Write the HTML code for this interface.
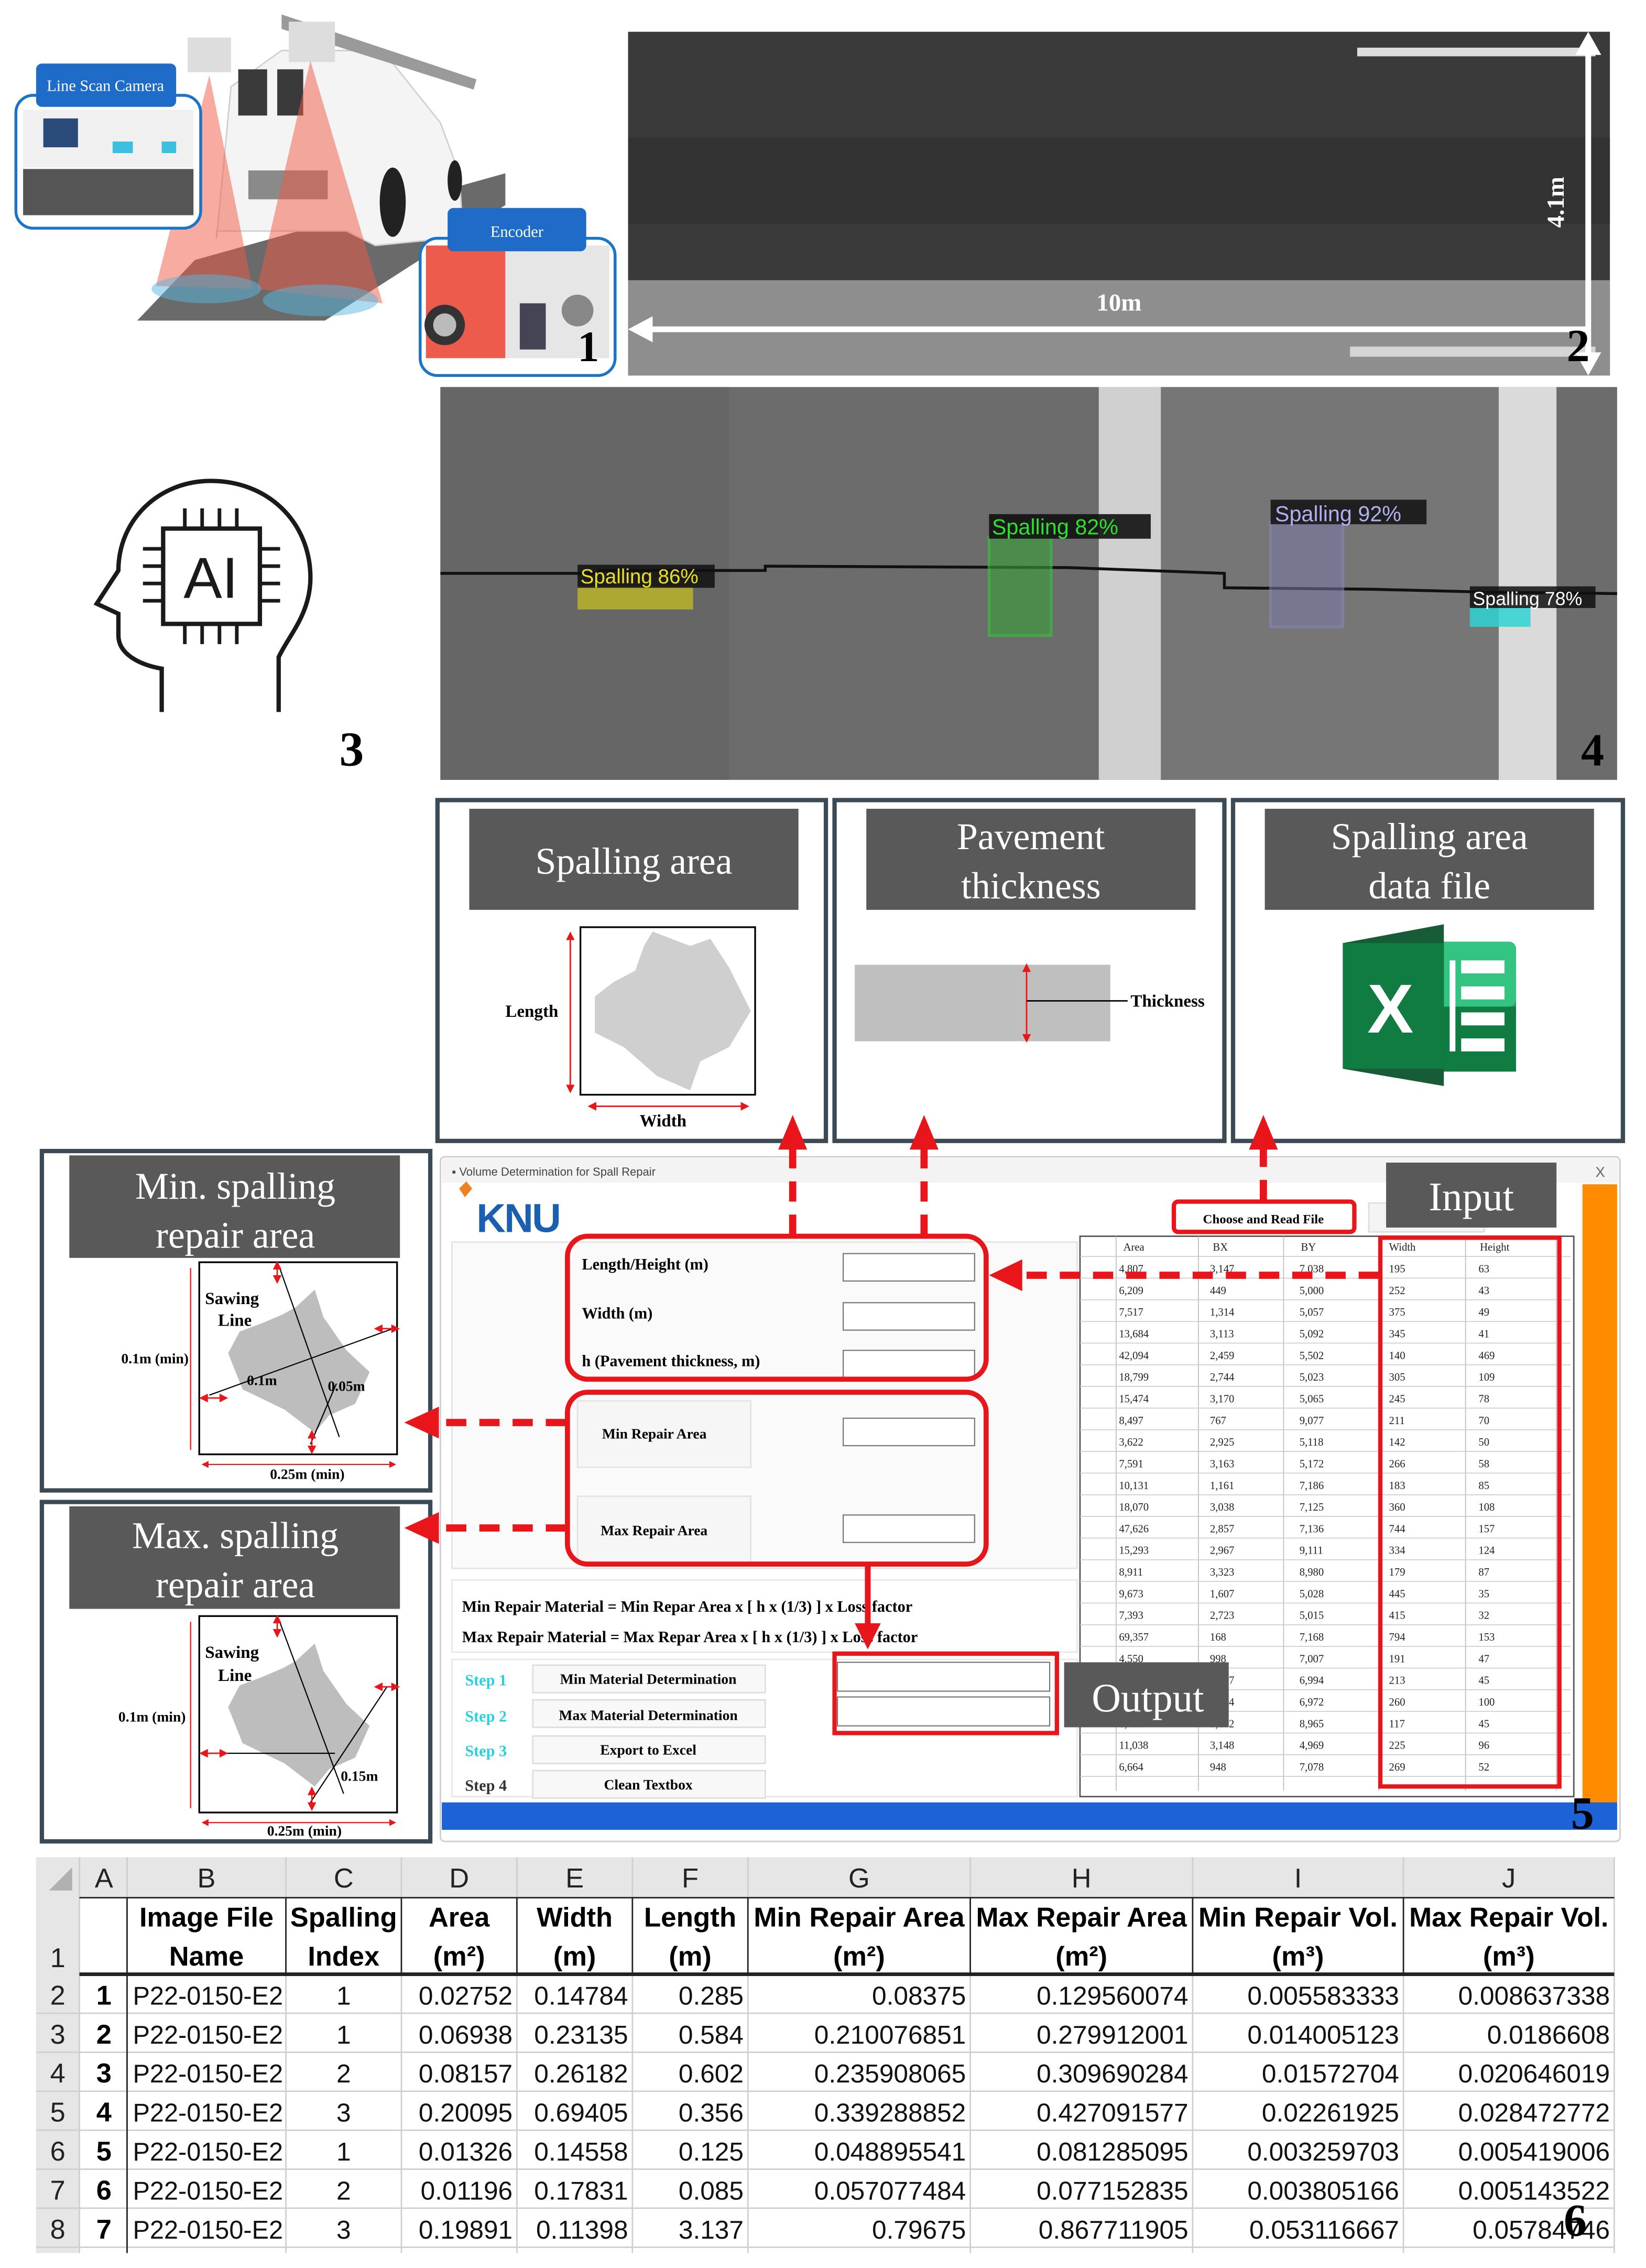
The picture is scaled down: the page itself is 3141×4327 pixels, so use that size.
<!DOCTYPE html>
<html><head><meta charset="utf-8"><style>html,body{margin:0;padding:0;background:#fff}svg{display:block}</style></head>
<body>
<svg xmlns="http://www.w3.org/2000/svg" width="3141" height="4327" viewBox="0 0 1140 1570.4" preserveAspectRatio="none" font-family="Liberation Serif, serif">
<defs>
<marker id="sa" markerWidth="6" markerHeight="6" refX="3" refY="3" orient="auto-start-reverse" markerUnits="strokeWidth"><path d="M0,0 L6,3 L0,6 z" fill="#e8161b"/></marker>
</defs>

<!-- Panel 1 -->
<polygon points="95,222 135,180 350,120 350,142 225,222" fill="#6a6a6a"/>
<path d="M150,165 L160,60 L195,35 L265,35 L305,85 L318,120 L320,150 L310,165 L260,170 L240,160 L150,160 z" fill="#f4f4f4" stroke="#d0d0d0"/>
<rect x="165" y="48" width="20" height="32" fill="#3a3a3a"/><rect x="192" y="48" width="18" height="32" fill="#3a3a3a"/>
<rect x="172" y="118" width="55" height="20" fill="#8a8a8a"/>
<ellipse cx="272" cy="140" rx="9" ry="24" fill="#222"/><ellipse cx="315" cy="125" rx="5" ry="14" fill="#222"/>
<polygon points="195,10 330,55 328,62 195,20" fill="#9a9a9a"/>
<rect x="130" y="26" width="30" height="24" fill="#ddd"/><rect x="200" y="15" width="32" height="28" fill="#ddd"/>
<polygon points="145,52 108,198 175,200" fill="#f25a44" opacity="0.5"/>
<polygon points="215,42 178,200 265,210" fill="#f25a44" opacity="0.5"/>
<ellipse cx="143" cy="200" rx="38" ry="10" fill="#55b8e0" opacity="0.5"/>
<ellipse cx="222" cy="208" rx="40" ry="11" fill="#55b8e0" opacity="0.5"/>
<rect x="11" y="66" width="128" height="92" rx="12" fill="#fff" stroke="#1b74c8" stroke-width="2"/>
<rect x="16" y="76" width="118" height="40" fill="#f0f0f0"/><rect x="30" y="82" width="24" height="20" fill="#2a4a7a"/>
<rect x="78" y="98" width="14" height="8" fill="#3bc0e0"/><rect x="112" y="98" width="10" height="8" fill="#3bc0e0"/>
<rect x="16" y="117" width="118" height="32" fill="#555"/>
<rect x="25" y="44" width="97" height="30" rx="4" fill="#1e6cc8"/>
<text x="73" y="63" font-size="11" fill="#fff" text-anchor="middle">Line Scan Camera</text>
<rect x="291" y="165" width="135" height="95" rx="12" fill="#fff" stroke="#1b74c8" stroke-width="2"/>
<rect x="295" y="170" width="55" height="78" fill="#ec5b4c"/><circle cx="308" cy="225" r="14" fill="#333"/><circle cx="308" cy="225" r="8" fill="#bbb"/>
<rect x="350" y="170" width="72" height="78" fill="#e6e6e6"/><rect x="360" y="210" width="18" height="32" fill="#445"/>
<circle cx="400" cy="215" r="11" fill="#888"/>
<rect x="310" y="144" width="96" height="30" rx="4" fill="#1e6cc8"/>
<text x="358" y="164" font-size="11" fill="#fff" text-anchor="middle">Encoder</text>
<text x="400" y="250" font-size="30" font-weight="bold">1</text>

<!-- Panel 2 -->
<rect x="435" y="22" width="680" height="238" fill="#3a3a3a"/>
<rect x="435" y="95" width="680" height="60" fill="#333"/>
<rect x="435" y="194" width="680" height="66" fill="#8e8e8e"/>
<rect x="940" y="33" width="165" height="6" fill="#ddd"/>
<rect x="935" y="240" width="170" height="7" fill="#d5d5d5"/>
<line x1="446" y1="228" x2="1100" y2="228" stroke="#fff" stroke-width="4"/>
<polygon points="435,228 452,219 452,237" fill="#fff"/>
<line x1="1100" y1="34" x2="1100" y2="250" stroke="#fff" stroke-width="4"/>
<polygon points="1100,22 1091,38 1109,38" fill="#fff"/><polygon points="1100,260 1091,244 1109,244" fill="#fff"/>
<text x="775" y="215" font-size="17" font-weight="bold" fill="#fff" text-anchor="middle">10m</text>
<text x="1083" y="140" font-size="17" font-weight="bold" fill="#fff" text-anchor="middle" transform="rotate(-90 1083 140)">4.1m</text>
<text x="1085" y="250" font-size="32" font-weight="bold" fill="#000">2</text>

<!-- Panel 3 AI head -->
<path d="M112,493 V463 C95,460 82,452 82,440 V425 L67,418 L82,395 C82,360 110,333 146,333 C186,333 215,362 215,400 C215,425 200,440 193,455 V493" fill="none" stroke="#1a1a1a" stroke-width="3"/>
<rect x="113" y="366" width="67" height="66" fill="none" stroke="#1a1a1a" stroke-width="3"/>
<g stroke="#1a1a1a" stroke-width="2.5">
<line x1="128" y1="352" x2="128" y2="366"/><line x1="140" y1="352" x2="140" y2="366"/><line x1="152" y1="352" x2="152" y2="366"/><line x1="164" y1="352" x2="164" y2="366"/>
<line x1="128" y1="432" x2="128" y2="446"/><line x1="140" y1="432" x2="140" y2="446"/><line x1="152" y1="432" x2="152" y2="446"/><line x1="164" y1="432" x2="164" y2="446"/>
<line x1="99" y1="380" x2="113" y2="380"/><line x1="99" y1="392" x2="113" y2="392"/><line x1="99" y1="404" x2="113" y2="404"/><line x1="99" y1="416" x2="113" y2="416"/>
<line x1="180" y1="380" x2="194" y2="380"/><line x1="180" y1="392" x2="194" y2="392"/><line x1="180" y1="404" x2="194" y2="404"/><line x1="180" y1="416" x2="194" y2="416"/>
</g>
<text x="146" y="414" font-family="Liberation Sans, sans-serif" font-size="40" text-anchor="middle" fill="#1a1a1a">AI</text>
<text x="235" y="530" font-size="34" font-weight="bold">3</text>

<!-- Panel 4 -->
<rect x="305" y="268" width="815" height="272" fill="#6c6c6c"/>
<rect x="305" y="268" width="200" height="272" fill="#666"/>
<rect x="804" y="268" width="234" height="272" fill="#767676"/>
<rect x="761" y="268" width="43" height="272" fill="#d0d0d0"/>
<rect x="1038" y="268" width="40" height="272" fill="#dadada"/>
<path d="M305,397 L415,397 L415,395 L530,395 L530,392 L740,393 L848,397 L848,407 L950,408 L1030,410 L1120,411" stroke="#111" stroke-width="2" fill="none"/>
<rect x="400" y="406" width="80" height="16" fill="#c6bf22" opacity="0.75"/>
<rect x="400" y="391" width="95" height="16" fill="#111" opacity="0.85"/>
<text x="402" y="404" font-family="Liberation Sans, sans-serif" font-size="14" fill="#e8e020">Spalling 86%</text>
<rect x="685" y="372" width="43" height="68" fill="#3aa03a" opacity="0.6" stroke="#3c3" stroke-width="2"/>
<rect x="685" y="356" width="112" height="17" fill="#111" opacity="0.9"/>
<text x="687" y="370" font-family="Liberation Sans, sans-serif" font-size="15" fill="#30e030">Spalling 82%</text>
<rect x="880" y="362" width="50" height="72" fill="#7878a8" opacity="0.55" stroke="#8888c0" stroke-width="2"/>
<rect x="880" y="346" width="108" height="17" fill="#111" opacity="0.85"/>
<text x="883" y="361" font-family="Liberation Sans, sans-serif" font-size="15" fill="#b0b0f0">Spalling 92%</text>
<rect x="1018" y="420" width="42" height="14" fill="#2fd3d3" opacity="0.85"/>
<rect x="1018" y="406" width="87" height="15" fill="#111" opacity="0.85"/>
<text x="1020" y="419" font-family="Liberation Sans, sans-serif" font-size="13" fill="#fff">Spalling 78%</text>
<text x="1095" y="530" font-size="32" font-weight="bold">4</text>

<!-- three boxes -->
<g fill="#fff" stroke="#3b4a55" stroke-width="3">
<rect x="303" y="554" width="269" height="236"/><rect x="578" y="554" width="270" height="236"/><rect x="854" y="554" width="270" height="236"/>
</g>
<g fill="#595959"><rect x="325" y="560" width="228" height="70"/><rect x="600" y="560" width="228" height="70"/><rect x="876" y="560" width="228" height="70"/></g>
<g fill="#fff" font-size="26" text-anchor="middle">
<text x="439" y="605">Spalling area</text>
<text x="714" y="588">Pavement</text><text x="714" y="622">thickness</text>
<text x="990" y="588">Spalling area</text><text x="990" y="622">data file</text>
</g>
<rect x="402" y="642" width="121" height="116" fill="#fff" stroke="#000" stroke-width="1.2"/>
<polygon points="452,645 478,655 492,650 505,670 520,700 505,725 485,735 478,755 455,745 432,725 412,715 412,690 425,680 440,672 446,655" fill="#cfcfcf"/>
<line x1="395" y1="648" x2="395" y2="754" stroke="#e8161b" stroke-width="1" marker-start="url(#sa)" marker-end="url(#sa)"/>
<line x1="410" y1="766" x2="516" y2="766" stroke="#e8161b" stroke-width="1" marker-start="url(#sa)" marker-end="url(#sa)"/>
<text x="350" y="704" font-size="12" font-weight="bold">Length</text>
<text x="443" y="780" font-size="12" font-weight="bold">Width</text>
<rect x="592" y="668" width="177" height="53" fill="#bfbfbf"/>
<line x1="711" y1="670" x2="711" y2="719" stroke="#e8161b" stroke-width="1" marker-start="url(#sa)" marker-end="url(#sa)"/>
<line x1="711" y1="693" x2="781" y2="693" stroke="#000" stroke-width="1"/>
<text x="783" y="697" font-size="12" font-weight="bold">Thickness</text>
<!-- excel -->
<rect x="968" y="652" width="82" height="90" rx="5" fill="#21a366"/>
<rect x="968" y="652" width="82" height="45" rx="5" fill="#33c481"/>
<rect x="968" y="697" width="82" height="45" fill="#107c41"/>
<polygon points="930,653 1000,640 1000,752 930,740" fill="#185c37"/>
<rect x="930" y="653" width="70" height="87" fill="#107c41"/>
<text x="963" y="715" font-family="Liberation Sans, sans-serif" font-size="48" font-weight="bold" fill="#fff" text-anchor="middle">X</text>
<g fill="#fff"><rect x="1012" y="665" width="30" height="9"/><rect x="1012" y="683" width="30" height="9"/><rect x="1012" y="701" width="30" height="9"/><rect x="1012" y="719" width="30" height="9"/><rect x="1004" y="665" width="4" height="63"/></g>

<!-- left boxes -->
<g fill="#fff" stroke="#3b4a55" stroke-width="3"><rect x="29" y="797" width="269" height="235"/><rect x="29" y="1040" width="269" height="235"/></g>
<g fill="#595959"><rect x="48" y="800" width="229" height="71"/><rect x="48" y="1043" width="229" height="71"/></g>
<g fill="#fff" font-size="26" text-anchor="middle">
<text x="163" y="830">Min. spalling</text><text x="163" y="864">repair area</text>
<text x="163" y="1072">Max. spalling</text><text x="163" y="1106">repair area</text>
</g>
<g>
<rect x="138" y="874" width="137" height="133" fill="#fff" stroke="#000" stroke-width="1.2"/>
<polygon points="205,905 218,893 224,912 240,935 256,950 246,972 228,980 218,992 197,976 168,962 158,937 166,922 182,916 196,910" fill="#bdbdbd"/>
<line x1="193" y1="876" x2="235" y2="995" stroke="#000" stroke-width="0.8"/>
<line x1="145" y1="966" x2="272" y2="920" stroke="#000" stroke-width="0.8"/>
<line x1="215" y1="1000" x2="233" y2="958" stroke="#000" stroke-width="0.8"/>
<line x1="132" y1="878" x2="132" y2="1004" stroke="#e8161b" stroke-width="0.8"/>
<line x1="142" y1="1014" x2="272" y2="1014" stroke="#e8161b" stroke-width="0.8" marker-start="url(#sa)" marker-end="url(#sa)"/>
<line x1="262" y1="920" x2="274" y2="920" stroke="#e8161b" stroke-width="1" marker-start="url(#sa)" marker-end="url(#sa)"/>
<line x1="141" y1="968" x2="155" y2="968" stroke="#e8161b" stroke-width="1" marker-start="url(#sa)" marker-end="url(#sa)"/>
<line x1="192" y1="876" x2="192" y2="886" stroke="#e8161b" stroke-width="1" marker-start="url(#sa)" marker-end="url(#sa)"/>
<line x1="216" y1="993" x2="216" y2="1004" stroke="#e8161b" stroke-width="1" marker-start="url(#sa)" marker-end="url(#sa)"/>
<text x="142" y="903" font-size="12" font-weight="bold">Sawing</text>
<text x="151" y="918" font-size="12" font-weight="bold">Line</text>
<text x="84" y="944" font-size="10" font-weight="bold">0.1m (min)</text>
<text x="171" y="959" font-size="10" font-weight="bold">0.1m</text>
<text x="227" y="963" font-size="10" font-weight="bold">0.05m</text>
<text x="187" y="1024" font-size="10" font-weight="bold">0.25m (min)</text>
</g>
<g>
<rect x="138" y="1119" width="137" height="136" fill="#fff" stroke="#000" stroke-width="1.2"/>
<polygon points="205,1150 218,1138 224,1157 240,1180 256,1195 246,1217 228,1225 218,1237 197,1221 168,1207 158,1182 166,1167 182,1161 196,1155" fill="#bdbdbd"/>
<line x1="193" y1="1121" x2="238" y2="1242" stroke="#000" stroke-width="0.8"/>
<line x1="145" y1="1214" x2="232" y2="1214" stroke="#000" stroke-width="0.8"/>
<line x1="215" y1="1248" x2="268" y2="1168" stroke="#000" stroke-width="0.8"/>
<line x1="132" y1="1123" x2="132" y2="1252" stroke="#e8161b" stroke-width="0.8"/>
<line x1="142" y1="1262" x2="272" y2="1262" stroke="#e8161b" stroke-width="0.8" marker-start="url(#sa)" marker-end="url(#sa)"/>
<line x1="262" y1="1168" x2="274" y2="1168" stroke="#e8161b" stroke-width="1" marker-start="url(#sa)" marker-end="url(#sa)"/>
<line x1="141" y1="1214" x2="155" y2="1214" stroke="#e8161b" stroke-width="1" marker-start="url(#sa)" marker-end="url(#sa)"/>
<line x1="192" y1="1121" x2="192" y2="1131" stroke="#e8161b" stroke-width="1" marker-start="url(#sa)" marker-end="url(#sa)"/>
<line x1="216" y1="1240" x2="216" y2="1251" stroke="#e8161b" stroke-width="1" marker-start="url(#sa)" marker-end="url(#sa)"/>
<text x="142" y="1148" font-size="12" font-weight="bold">Sawing</text>
<text x="151" y="1164" font-size="12" font-weight="bold">Line</text>
<text x="82" y="1192" font-size="10" font-weight="bold">0.1m (min)</text>
<text x="236" y="1233" font-size="10" font-weight="bold">0.15m</text>
<text x="185" y="1271" font-size="10" font-weight="bold">0.25m (min)</text>
</g>

<!-- App window -->
<rect x="305" y="801" width="817" height="474" rx="3" fill="#fff" stroke="#ccc" stroke-width="1"/>
<rect x="306" y="802" width="815" height="17" fill="#f3f3f3"/>
<text x="313" y="814" font-family="Liberation Sans, sans-serif" font-size="8" fill="#444">▪ Volume Determination for Spall Repair</text>
<text x="1105" y="815" font-family="Liberation Sans, sans-serif" font-size="10" fill="#666">X</text>
<rect x="1096" y="820" width="24" height="445" fill="#ff8c00"/>
<polygon points="318,823 323,818 327,823 322,829" fill="#f08020"/>
<text x="330" y="853" font-family="Liberation Sans, sans-serif" font-size="28" font-weight="bold" fill="#1b5fb0" letter-spacing="-1">KNU</text>
<rect x="313" y="860" width="433" height="226" fill="#fafafa" stroke="#e4e4e4"/>
<rect x="313" y="1094" width="433" height="50" fill="#fff" stroke="#e8e8e8"/>
<rect x="313" y="1149" width="433" height="95" fill="#fff" stroke="#e8e8e8"/>
<rect x="400" y="970" width="120" height="46" fill="#f6f6f6" stroke="#e4e4e4"/>
<rect x="400" y="1036" width="120" height="46" fill="#f6f6f6" stroke="#e4e4e4"/>
<rect x="948" y="833" width="80" height="20" fill="#f4f4f4" stroke="#ddd"/>
<text x="979" y="847" font-size="9" font-weight="bold">Cancel</text>
<rect x="960" y="805" width="118" height="45" fill="#595959"/>
<text x="1019" y="838" font-size="28" fill="#fff" text-anchor="middle">Input</text>
<rect x="813" y="832" width="125" height="21" rx="3" fill="#fff" stroke="#e8161b" stroke-width="3"/>
<text x="875" y="847" font-size="9" font-weight="bold" text-anchor="middle">Choose and Read File</text>
<g font-size="11" font-weight="bold">
<text x="403" y="879">Length/Height (m)</text>
<text x="403" y="913">Width (m)</text>
<text x="403" y="946">h (Pavement thickness, m)</text>
<text x="417" y="996" font-size="10">Min Repair Area</text>
<text x="416" y="1063" font-size="10">Max Repair Area</text>
</g>
<g fill="#fff" stroke="#777" stroke-width="0.8">
<rect x="584" y="868" width="91" height="19"/><rect x="584" y="902" width="91" height="19"/><rect x="584" y="935" width="91" height="19"/>
<rect x="584" y="982" width="91" height="19"/><rect x="584" y="1049" width="91" height="19"/>
<rect x="580" y="1151" width="147" height="20"/><rect x="580" y="1175" width="147" height="20"/>
</g>
<rect x="393" y="856" width="290" height="99" rx="14" fill="none" stroke="#e8161b" stroke-width="3.5"/>
<rect x="393" y="964" width="290" height="119" rx="14" fill="none" stroke="#e8161b" stroke-width="3.5"/>
<text x="320" y="1116" font-size="11" font-weight="bold">Min Repair Material = Min Repar Area x [ h x (1/3) ] x Loss factor</text>
<text x="320" y="1137" font-size="11" font-weight="bold">Max Repair Material = Max Repar Area x [ h x (1/3) ] x Loss factor</text>
<g font-size="11" font-weight="bold">
<text x="322" y="1167" fill="#2bd0e0">Step 1</text><text x="322" y="1192" fill="#2bd0e0">Step 2</text><text x="322" y="1216" fill="#2bd0e0">Step 3</text><text x="322" y="1240" fill="#333">Step 4</text>
</g>
<g fill="#f8f8f8" stroke="#ddd"><rect x="369" y="1153" width="161" height="19"/><rect x="369" y="1177" width="161" height="19"/><rect x="369" y="1202" width="161" height="19"/><rect x="369" y="1226" width="161" height="19"/></g>
<g font-size="10" font-weight="bold" text-anchor="middle">
<text x="449" y="1166">Min Material Determination</text><text x="449" y="1191">Max Material Determination</text><text x="449" y="1215">Export to Excel</text><text x="449" y="1239">Clean Textbox</text>
</g>
<rect x="578" y="1145" width="154" height="55" fill="none" stroke="#e8161b" stroke-width="3"/>
<!-- table -->
<rect x="748" y="856" width="342" height="388" fill="#fff" stroke="#555" stroke-width="1"/>
<g stroke="#bbb" stroke-width="0.6">
<line x1="773" y1="856" x2="773" y2="1240"/><line x1="830" y1="856" x2="830" y2="1240"/><line x1="889" y1="856" x2="889" y2="1240"/><line x1="955" y1="856" x2="955" y2="1240"/><line x1="1015" y1="856" x2="1015" y2="1240"/><line x1="1078" y1="856" x2="1078" y2="1240"/>
</g>
<g stroke="#ccc" stroke-width="0.6">
<line x1="748" y1="870" x2="1088" y2="870"/><line x1="748" y1="885" x2="1088" y2="885"/><line x1="748" y1="900" x2="1088" y2="900"/><line x1="748" y1="915" x2="1088" y2="915"/><line x1="748" y1="930" x2="1088" y2="930"/><line x1="748" y1="945" x2="1088" y2="945"/><line x1="748" y1="960" x2="1088" y2="960"/><line x1="748" y1="975" x2="1088" y2="975"/><line x1="748" y1="990" x2="1088" y2="990"/><line x1="748" y1="1005" x2="1088" y2="1005"/><line x1="748" y1="1020" x2="1088" y2="1020"/><line x1="748" y1="1035" x2="1088" y2="1035"/><line x1="748" y1="1050" x2="1088" y2="1050"/><line x1="748" y1="1065" x2="1088" y2="1065"/><line x1="748" y1="1080" x2="1088" y2="1080"/><line x1="748" y1="1095" x2="1088" y2="1095"/><line x1="748" y1="1110" x2="1088" y2="1110"/><line x1="748" y1="1125" x2="1088" y2="1125"/><line x1="748" y1="1140" x2="1088" y2="1140"/><line x1="748" y1="1155" x2="1088" y2="1155"/><line x1="748" y1="1170" x2="1088" y2="1170"/><line x1="748" y1="1185" x2="1088" y2="1185"/><line x1="748" y1="1200" x2="1088" y2="1200"/><line x1="748" y1="1215" x2="1088" y2="1215"/><line x1="748" y1="1230" x2="1088" y2="1230"/>
</g>
<g font-size="7.5" fill="#222">
<text x="778" y="866">Area</text><text x="840" y="866">BX</text><text x="901" y="866">BY</text><text x="962" y="866">Width</text><text x="1025" y="866">Height</text>
<text x="775" y="881">4,807</text><text x="838" y="881">3,147</text><text x="900" y="881">7,038</text><text x="962" y="881">195</text><text x="1024" y="881">63</text>
<text x="775" y="896">6,209</text><text x="838" y="896">449</text><text x="900" y="896">5,000</text><text x="962" y="896">252</text><text x="1024" y="896">43</text>
<text x="775" y="911">7,517</text><text x="838" y="911">1,314</text><text x="900" y="911">5,057</text><text x="962" y="911">375</text><text x="1024" y="911">49</text>
<text x="775" y="926">13,684</text><text x="838" y="926">3,113</text><text x="900" y="926">5,092</text><text x="962" y="926">345</text><text x="1024" y="926">41</text>
<text x="775" y="941">42,094</text><text x="838" y="941">2,459</text><text x="900" y="941">5,502</text><text x="962" y="941">140</text><text x="1024" y="941">469</text>
<text x="775" y="956">18,799</text><text x="838" y="956">2,744</text><text x="900" y="956">5,023</text><text x="962" y="956">305</text><text x="1024" y="956">109</text>
<text x="775" y="971">15,474</text><text x="838" y="971">3,170</text><text x="900" y="971">5,065</text><text x="962" y="971">245</text><text x="1024" y="971">78</text>
<text x="775" y="986">8,497</text><text x="838" y="986">767</text><text x="900" y="986">9,077</text><text x="962" y="986">211</text><text x="1024" y="986">70</text>
<text x="775" y="1001">3,622</text><text x="838" y="1001">2,925</text><text x="900" y="1001">5,118</text><text x="962" y="1001">142</text><text x="1024" y="1001">50</text>
<text x="775" y="1016">7,591</text><text x="838" y="1016">3,163</text><text x="900" y="1016">5,172</text><text x="962" y="1016">266</text><text x="1024" y="1016">58</text>
<text x="775" y="1031">10,131</text><text x="838" y="1031">1,161</text><text x="900" y="1031">7,186</text><text x="962" y="1031">183</text><text x="1024" y="1031">85</text>
<text x="775" y="1046">18,070</text><text x="838" y="1046">3,038</text><text x="900" y="1046">7,125</text><text x="962" y="1046">360</text><text x="1024" y="1046">108</text>
<text x="775" y="1061">47,626</text><text x="838" y="1061">2,857</text><text x="900" y="1061">7,136</text><text x="962" y="1061">744</text><text x="1024" y="1061">157</text>
<text x="775" y="1076">15,293</text><text x="838" y="1076">2,967</text><text x="900" y="1076">9,111</text><text x="962" y="1076">334</text><text x="1024" y="1076">124</text>
<text x="775" y="1091">8,911</text><text x="838" y="1091">3,323</text><text x="900" y="1091">8,980</text><text x="962" y="1091">179</text><text x="1024" y="1091">87</text>
<text x="775" y="1106">9,673</text><text x="838" y="1106">1,607</text><text x="900" y="1106">5,028</text><text x="962" y="1106">445</text><text x="1024" y="1106">35</text>
<text x="775" y="1121">7,393</text><text x="838" y="1121">2,723</text><text x="900" y="1121">5,015</text><text x="962" y="1121">415</text><text x="1024" y="1121">32</text>
<text x="775" y="1136">69,357</text><text x="838" y="1136">168</text><text x="900" y="1136">7,168</text><text x="962" y="1136">794</text><text x="1024" y="1136">153</text>
<text x="775" y="1151">4,550</text><text x="838" y="1151">998</text><text x="900" y="1151">7,007</text><text x="962" y="1151">191</text><text x="1024" y="1151">47</text>
<text x="775" y="1166">5,057</text><text x="838" y="1166">2,087</text><text x="900" y="1166">6,994</text><text x="962" y="1166">213</text><text x="1024" y="1166">45</text>
<text x="775" y="1181">2,981</text><text x="838" y="1181">3,124</text><text x="900" y="1181">6,972</text><text x="962" y="1181">260</text><text x="1024" y="1181">100</text>
<text x="775" y="1196">1,458</text><text x="838" y="1196">3,182</text><text x="900" y="1196">8,965</text><text x="962" y="1196">117</text><text x="1024" y="1196">45</text>
<text x="775" y="1211">11,038</text><text x="838" y="1211">3,148</text><text x="900" y="1211">4,969</text><text x="962" y="1211">225</text><text x="1024" y="1211">96</text>
<text x="775" y="1226">6,664</text><text x="838" y="1226">948</text><text x="900" y="1226">7,078</text><text x="962" y="1226">269</text><text x="1024" y="1226">52</text>
</g>
<rect x="956" y="857" width="124" height="380" fill="none" stroke="#e8161b" stroke-width="3"/>
<rect x="737" y="1151" width="114" height="45" fill="#595959"/>
<text x="795" y="1185" font-size="28" fill="#fff" text-anchor="middle">Output</text>
<rect x="306" y="1248" width="814" height="19" fill="#1e62d8"/>
<text x="1088" y="1266" font-size="32" font-weight="bold">5</text>

<!-- arrows -->
<g stroke="#e8161b" stroke-width="5" stroke-dasharray="14,9" fill="none">
<line x1="549" y1="855" x2="549" y2="795"/>
<line x1="640" y1="855" x2="640" y2="795"/>
<line x1="875" y1="831" x2="875" y2="795"/>
<line x1="955" y1="883" x2="705" y2="883"/>
<line x1="392" y1="985" x2="300" y2="985"/>
<line x1="392" y1="1058" x2="300" y2="1058"/>
</g>
<g fill="#e8161b">
<polygon points="549,772 539,796 559,796"/>
<polygon points="640,772 630,796 650,796"/>
<polygon points="875,772 865,796 885,796"/>
<polygon points="685,883 708,872 708,894"/>
<polygon points="280,985 304,974 304,996"/>
<polygon points="280,1058 304,1047 304,1069"/>
<polygon points="601,1142 592,1124 610,1124"/>
</g>
<line x1="601" y1="1083" x2="601" y2="1126" stroke="#e8161b" stroke-width="4"/>

<!-- Spreadsheet -->
<rect x="25" y="1286" width="1093" height="28" fill="#e6e6e6"/>
<rect x="25" y="1286" width="30" height="274" fill="#e6e6e6"/>
<polygon points="34,1309 50,1309 50,1293" fill="#b0b0b0"/>
<g stroke="#cfcfcf" stroke-width="1">
<line x1="55" y1="1286" x2="55" y2="1560"/><line x1="88" y1="1286" x2="88" y2="1560"/><line x1="198" y1="1286" x2="198" y2="1560"/><line x1="278" y1="1286" x2="278" y2="1560"/><line x1="358" y1="1286" x2="358" y2="1560"/><line x1="438" y1="1286" x2="438" y2="1560"/><line x1="518" y1="1286" x2="518" y2="1560"/><line x1="672" y1="1286" x2="672" y2="1560"/><line x1="826" y1="1286" x2="826" y2="1560"/><line x1="972" y1="1286" x2="972" y2="1560"/><line x1="1118" y1="1286" x2="1118" y2="1560"/>
<line x1="25" y1="1394" x2="1118" y2="1394"/><line x1="25" y1="1421" x2="1118" y2="1421"/><line x1="25" y1="1448" x2="1118" y2="1448"/><line x1="25" y1="1475" x2="1118" y2="1475"/><line x1="25" y1="1502" x2="1118" y2="1502"/><line x1="25" y1="1529" x2="1118" y2="1529"/><line x1="25" y1="1556" x2="1118" y2="1556"/>
</g>
<g stroke="#222" stroke-width="1">
<line x1="55" y1="1314" x2="1118" y2="1314"/>
<line x1="88" y1="1314" x2="88" y2="1367"/><line x1="198" y1="1314" x2="198" y2="1367"/><line x1="278" y1="1314" x2="278" y2="1367"/><line x1="358" y1="1314" x2="358" y2="1367"/><line x1="438" y1="1314" x2="438" y2="1367"/><line x1="518" y1="1314" x2="518" y2="1367"/><line x1="672" y1="1314" x2="672" y2="1367"/><line x1="826" y1="1314" x2="826" y2="1367"/><line x1="972" y1="1314" x2="972" y2="1367"/>
<line x1="88" y1="1367" x2="88" y2="1560"/>
</g>
<line x1="55" y1="1367" x2="1118" y2="1367" stroke="#222" stroke-width="2.5"/>
<g font-family="Liberation Sans Narrow, Liberation Sans, sans-serif" font-size="19" fill="#222" text-anchor="middle">
<text x="72" y="1307">A</text><text x="143" y="1307">B</text><text x="238" y="1307">C</text><text x="318" y="1307">D</text><text x="398" y="1307">E</text><text x="478" y="1307">F</text><text x="595" y="1307">G</text><text x="749" y="1307">H</text><text x="899" y="1307">I</text><text x="1045" y="1307">J</text>
<text x="40" y="1362">1</text><text x="40" y="1388">2</text><text x="40" y="1415">3</text><text x="40" y="1442">4</text><text x="40" y="1469">5</text><text x="40" y="1496">6</text><text x="40" y="1523">7</text><text x="40" y="1550">8</text>
</g>
<g font-family="Liberation Sans Narrow, Liberation Sans, sans-serif" font-size="19" fill="#000" text-anchor="middle" font-weight="bold">
<text x="143" y="1334">Image File</text><text x="143" y="1361">Name</text>
<text x="238" y="1334" textLength="74" lengthAdjust="spacingAndGlyphs">Spalling</text><text x="238" y="1361">Index</text>
<text x="318" y="1334">Area</text><text x="318" y="1361">(m²)</text>
<text x="398" y="1334">Width</text><text x="398" y="1361">(m)</text>
<text x="478" y="1334" textLength="64" lengthAdjust="spacingAndGlyphs">Length</text><text x="478" y="1361">(m)</text>
<text x="595" y="1334" textLength="146" lengthAdjust="spacingAndGlyphs">Min Repair Area</text><text x="595" y="1361">(m²)</text>
<text x="749" y="1334" textLength="146" lengthAdjust="spacingAndGlyphs">Max Repair Area</text><text x="749" y="1361">(m²)</text>
<text x="899" y="1334" textLength="138" lengthAdjust="spacingAndGlyphs">Min Repair Vol.</text><text x="899" y="1361">(m³)</text>
<text x="1045" y="1334" textLength="138" lengthAdjust="spacingAndGlyphs">Max Repair Vol.</text><text x="1045" y="1361">(m³)</text>
<text x="72" y="1388">1</text><text x="72" y="1415">2</text><text x="72" y="1442">3</text><text x="72" y="1469">4</text><text x="72" y="1496">5</text><text x="72" y="1523">6</text><text x="72" y="1550">7</text>
</g>
<g font-family="Liberation Sans Narrow, Liberation Sans, sans-serif" font-size="18" fill="#111">
<g text-anchor="start">
<text x="92" y="1388" textLength="104" lengthAdjust="spacingAndGlyphs">P22-0150-E2</text><text x="92" y="1415" textLength="104" lengthAdjust="spacingAndGlyphs">P22-0150-E2</text><text x="92" y="1442" textLength="104" lengthAdjust="spacingAndGlyphs">P22-0150-E2</text><text x="92" y="1469" textLength="104" lengthAdjust="spacingAndGlyphs">P22-0150-E2</text><text x="92" y="1496" textLength="104" lengthAdjust="spacingAndGlyphs">P22-0150-E2</text><text x="92" y="1523" textLength="104" lengthAdjust="spacingAndGlyphs">P22-0150-E2</text><text x="92" y="1550" textLength="104" lengthAdjust="spacingAndGlyphs">P22-0150-E2</text>
</g>
<g text-anchor="middle">
<text x="238" y="1388">1</text><text x="238" y="1415">1</text><text x="238" y="1442">2</text><text x="238" y="1469">3</text><text x="238" y="1496">1</text><text x="238" y="1523">2</text><text x="238" y="1550">3</text>
</g>
<g text-anchor="end">
<text x="355" y="1388">0.02752</text><text x="435" y="1388">0.14784</text><text x="515" y="1388">0.285</text><text x="669" y="1388">0.08375</text><text x="823" y="1388">0.129560074</text><text x="969" y="1388">0.005583333</text><text x="1115" y="1388">0.008637338</text>
<text x="355" y="1415">0.06938</text><text x="435" y="1415">0.23135</text><text x="515" y="1415">0.584</text><text x="669" y="1415">0.210076851</text><text x="823" y="1415">0.279912001</text><text x="969" y="1415">0.014005123</text><text x="1115" y="1415">0.0186608</text>
<text x="355" y="1442">0.08157</text><text x="435" y="1442">0.26182</text><text x="515" y="1442">0.602</text><text x="669" y="1442">0.235908065</text><text x="823" y="1442">0.309690284</text><text x="969" y="1442">0.01572704</text><text x="1115" y="1442">0.020646019</text>
<text x="355" y="1469">0.20095</text><text x="435" y="1469">0.69405</text><text x="515" y="1469">0.356</text><text x="669" y="1469">0.339288852</text><text x="823" y="1469">0.427091577</text><text x="969" y="1469">0.02261925</text><text x="1115" y="1469">0.028472772</text>
<text x="355" y="1496">0.01326</text><text x="435" y="1496">0.14558</text><text x="515" y="1496">0.125</text><text x="669" y="1496">0.048895541</text><text x="823" y="1496">0.081285095</text><text x="969" y="1496">0.003259703</text><text x="1115" y="1496">0.005419006</text>
<text x="355" y="1523">0.01196</text><text x="435" y="1523">0.17831</text><text x="515" y="1523">0.085</text><text x="669" y="1523">0.057077484</text><text x="823" y="1523">0.077152835</text><text x="969" y="1523">0.003805166</text><text x="1115" y="1523">0.005143522</text>
<text x="355" y="1550">0.19891</text><text x="435" y="1550">0.11398</text><text x="515" y="1550">3.137</text><text x="669" y="1550">0.79675</text><text x="823" y="1550">0.867711905</text><text x="969" y="1550">0.053116667</text><text x="1115" y="1550">0.05784746</text>
</g>
</g>
<text x="1083" y="1548" font-size="32" font-weight="bold">6</text>
</svg>
</body></html>
